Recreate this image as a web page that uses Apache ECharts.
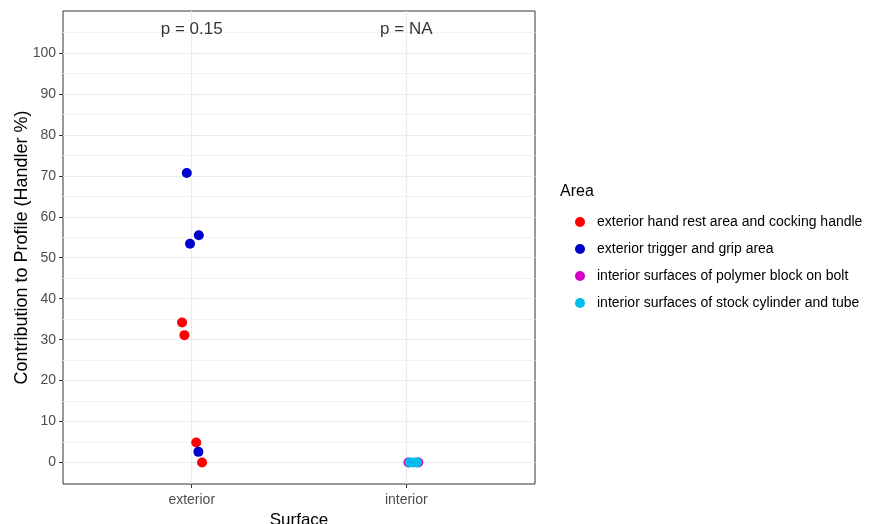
<!DOCTYPE html>
<html>
<head>
<meta charset="utf-8">
<script src="https://cdn.jsdelivr.net/npm/echarts@6/dist/echarts.min.js"></script>
<style>html,body{margin:0;padding:0;background:#fff;}#c{width:869px;height:524px;}</style>
</head>
<body>
<div id="c"></div>
<script>
// Categories on the x axis (positions 1, 2)
const surfaces = ['exterior', 'interior'];
// Series (Area) names
const areaNames = [
  'exterior hand rest area and cocking handle',
  'exterior trigger and grip area',
  'interior surfaces of polymer block on bolt',
  'interior surfaces of stock cylinder and tube'
];
const areaColors = ['#FF0000', '#0000CD', '#D400C8', '#00BCE8'];
// Jittered points: [surface position, contribution %]
const handRest = [[0.955, 34.2], [0.966, 31.1], [1.021, 4.9], [1.048, 0.0]];
const triggerGrip = [[0.977, 70.7], [1.033, 55.5], [0.992, 53.4], [1.031, 2.6]];
const polymerBlock = [[2.010, 0.0], [2.056, 0.0]];
const stockCylinder = [[2.016, 0.0], [2.034, 0.0], [2.050, 0.0]];
// p-value annotations
const pLabels = [[1, 105.9, 'p = 0.15'], [2, 105.9, 'p = NA']];
// Tick values
const yMajor = [0, 10, 20, 30, 40, 50, 60, 70, 80, 90, 100];
const yMinor = [5, 15, 25, 35, 45, 55, 65, 75, 85, 95, 105];
const xTicks = [1, 2];

const chart = echarts.init(document.getElementById('c'));
const font = 'Liberation Sans, Arial, sans-serif';
const yMin = -5.25, yMax = 110.25;
const mkScatter = (i, data) => ({
  name: areaNames[i], type: 'scatter', data: data, symbolSize: 10,
  itemStyle: { color: areaColors[i], opacity: 1 }, xAxisIndex: 0, yAxisIndex: 0, z: 5
});
chart.setOption({
  animation: false,
  backgroundColor: '#fff',
  title: { text: 'Area', left: 555, top: 179, textStyle: { fontFamily: font, fontSize: 16, fontWeight: 'normal', color: '#000' } },
  legend: {
    orient: 'vertical', left: 570, top: 210, icon: 'circle', itemWidth: 10, itemHeight: 10, itemGap: 13,
    data: areaNames,
    textStyle: { fontFamily: font, fontSize: 14, color: '#000', lineHeight: 14, padding: [0, 0, 0, 7] }
  },
  grid: { left: 63, top: 11, width: 472, height: 473, show: true, borderColor: '#333', borderWidth: 1, backgroundColor: 'transparent', outerBoundsMode: 'none', containLabel: false },
  xAxis: [{
    type: 'value', min: 0.4, max: 2.6,
    name: 'Surface', nameLocation: 'middle', nameGap: 25,
    nameTextStyle: { fontFamily: font, fontSize: 17, color: '#000' },
    axisLine: { show: false, onZero: false },
    axisTick: { show: true, length: 4, customValues: xTicks, lineStyle: { color: '#333' } },
    axisLabel: { customValues: xTicks, formatter: v => surfaces[Math.round(v) - 1] || '', fontFamily: font, fontSize: 14, color: '#4D4D4D', margin: 9 },
    splitLine: { show: true, lineStyle: { color: '#EBEBEB', width: 1.2 } }
  }],
  yAxis: [{
    type: 'value', min: yMin, max: yMax,
    name: 'Contribution to Profile (Handler %)', nameLocation: 'middle', nameGap: 32, nameMoveOverlap: false,
    nameTextStyle: { fontFamily: font, fontSize: 18, color: '#000' },
    axisLine: { show: false, onZero: false },
    axisTick: { show: true, length: 4, customValues: yMajor, lineStyle: { color: '#333' } },
    axisLabel: { customValues: yMajor, fontFamily: font, fontSize: 14, color: '#4D4D4D', margin: 7 },
    splitLine: { show: true, lineStyle: { color: '#EBEBEB', width: 1.2 } }
  }, {
    type: 'value', min: yMin, max: yMax, position: 'left',
    axisLine: { show: false, onZero: false }, axisLabel: { show: false, customValues: yMinor },
    axisTick: { show: false, customValues: yMinor },
    splitLine: { show: true, lineStyle: { color: '#F2F2F2', width: 1 } }
  }],
  series: [
    mkScatter(0, handRest),
    mkScatter(1, triggerGrip),
    mkScatter(2, polymerBlock),
    mkScatter(3, stockCylinder),
    {
      type: 'scatter', symbolSize: 0, silent: true, z: 6,
      data: pLabels.map(p => ({ value: [p[0], p[1]], label: { formatter: p[2] } })),
      label: { show: true, position: 'inside', fontFamily: font, fontSize: 17, color: '#000' }
    }
  ]
});
</script>
</body>
</html>
